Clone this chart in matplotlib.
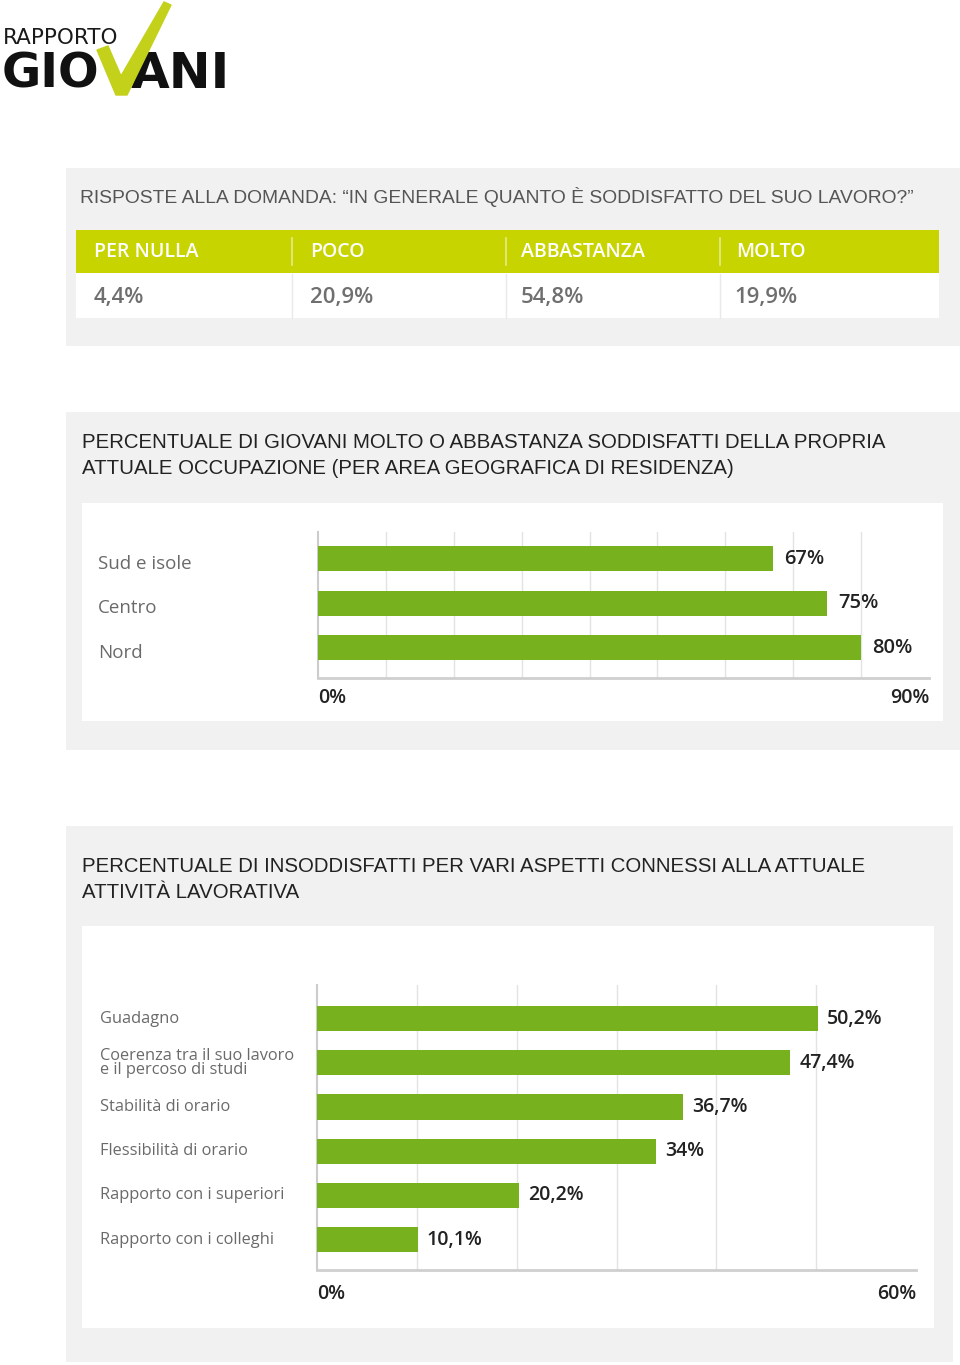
import matplotlib
matplotlib.use("Agg")
import matplotlib.pyplot as plt
from matplotlib.patches import Rectangle, Polygon
from matplotlib.transforms import blended_transform_factory
import numpy as np

W, H = 960, 1365

# data
table_heads = ["PER NULLA", "POCO", "ABBASTANZA", "MOLTO"]
table_vals = [4.4, 20.9, 54.8, 19.9]

areas = ["Sud e isole", "Centro", "Nord"]
area_vals = [67, 75, 80]

aspects = ["Guadagno", "Coerenza tra il suo lavoro\ne il percoso di studi",
           "Stabilità di orario", "Flessibilità di orario",
           "Rapporto con i superiori", "Rapporto con i colleghi"]
aspect_vals = [50.2, 47.4, 36.7, 34.0, 20.2, 10.1]

GREEN_HEAD = "#c8d400"
GREEN_BAR = "#78b11e"
PANEL = "#f1f1f1"
SANS = ["Liberation Sans", "DejaVu Sans"]
OPEN = ["Open Sans", "DejaVu Sans"]


def fmt(v):
    return f"{v:g}".replace(".", ",") + "%"


def px_axes(x0, y0, x1, y1):
    return fig.add_axes([x0 / W, 1 - y1 / H, (x1 - x0) / W, (y1 - y0) / H])


fig = plt.figure(figsize=(W / 100, H / 100), dpi=100)
bg = fig.add_axes([0, 0, 1, 1])
bg.set_xlim(0, W)
bg.set_ylim(H, 0)
bg.axis("off")

# logo
bg.text(3, 44, "RAPPORTO", fontsize=15.5, family=["DejaVu Sans"], color="#1a1a1a", va="baseline")
bg.text(2, 88, "GIO", fontsize=34.5, family=["DejaVu Sans"], weight="bold", color="#111111", va="baseline")
bg.text(131, 88, "ANI", fontsize=36, family=["DejaVu Sans"], weight="bold", color="#111111", va="baseline")
bg.add_patch(Polygon([(97, 50), (108, 46), (121, 76), (164, 2), (171, 5), (127, 95), (116, 95)],
                     closed=True, color="#c3d11a", zorder=3))

# panels
bg.add_patch(Rectangle((66, 168), 894, 178, color=PANEL, lw=0))
bg.add_patch(Rectangle((66, 412), 894, 338, color=PANEL, lw=0))
bg.add_patch(Rectangle((66, 826), 887, 536, color=PANEL, lw=0))
bg.add_patch(Rectangle((82, 503), 861, 218, color="white", lw=0))
bg.add_patch(Rectangle((82, 926), 852, 402, color="white", lw=0))

# panel 1: table
bg.text(80, 197, "RISPOSTE ALLA DOMANDA: “IN GENERALE QUANTO È SODDISFATTO DEL SUO LAVORO?”",
        fontsize=13.9, family=SANS, color="#555555", va="center")
bg.add_patch(Rectangle((76, 230), 863, 43, color=GREEN_HEAD, lw=0))
bg.add_patch(Rectangle((76, 273), 863, 45, color="white", lw=0))
col_x = [94, 310, 521, 736]
sep_x = [292, 506, 720]
for i, (h, v) in enumerate(zip(table_heads, table_vals)):
    bg.text(col_x[i], 252, h, fontsize=14, family=OPEN, weight="semibold", color="white", va="center")
    bg.text(col_x[i] - (2 if i == 3 else 0), 297, fmt(v), fontsize=16, family=OPEN,
            weight="semibold", color="#6f6f6f", va="center")
for sx in sep_x:
    bg.plot([sx, sx], [238, 265], color="#e6ec8a", lw=1.2)
    bg.plot([sx, sx], [274, 318], color="#e9e9e9", lw=1)

# panel 2 title
bg.text(82, 442, "PERCENTUALE DI GIOVANI MOLTO O ABBASTANZA SODDISFATTI DELLA PROPRIA",
        fontsize=14.7, family=SANS, color="#222222", va="center")
bg.text(82, 469, "ATTUALE OCCUPAZIONE (PER AREA GEOGRAFICA DI RESIDENZA)",
        fontsize=14.7, family=SANS, color="#222222", va="center")

# panel 3 title
bg.text(82, 866, "PERCENTUALE DI INSODDISFATTI PER VARI ASPETTI CONNESSI ALLA ATTUALE",
        fontsize=14.7, family=SANS, color="#222222", va="center")
bg.text(82, 893, "ATTIVITÀ LAVORATIVA",
        fontsize=14.7, family=SANS, color="#222222", va="center")


def bar_chart(ax, cats, vals, xmax, ylim, height, lab_x, lab_size, lab_dy, val_size, val_off, pad):
    pos = np.arange(len(cats))
    ax.barh(pos, vals, height=height, color=GREEN_BAR, zorder=3)
    ax.set_xlim(0, xmax)
    ax.set_ylim(*ylim)
    ax.set_facecolor("white")
    ax.set_xticks(np.arange(0, xmax + 1, 10), minor=True)
    ax.grid(which="minor", axis="x", color="#e3e3e3", lw=1)
    ax.set_xticks([0, xmax], ["0%", f"{xmax}%"])
    ax.tick_params(axis="x", which="both", length=0, pad=pad, labelsize=14, labelcolor="#222222")
    tl = ax.get_xticklabels()
    tl[0].set_ha("left")
    tl[1].set_ha("right")
    for t in tl:
        t.set_family(OPEN)
        t.set_weight("semibold")
    ax.set_yticks([])
    for s in ["top", "right"]:
        ax.spines[s].set_visible(False)
    ax.spines["left"].set_color("#cccccc")
    ax.spines["left"].set_linewidth(1.5)
    ax.spines["bottom"].set_color("#cfcfcf")
    ax.spines["bottom"].set_linewidth(2)
    tr = blended_transform_factory(bg.transData, ax.transData)
    for p, c, v in zip(pos, cats, vals):
        ax.annotate(c, (lab_x, p), xycoords=tr, xytext=(0, -lab_dy), textcoords="offset pixels",
                    fontsize=lab_size, family=OPEN, color="#6a6a6a",
                    va="center", linespacing=0.8, annotation_clip=False)
        ax.annotate(fmt(v), (v, p), xytext=(val_off, 0), textcoords="offset pixels",
                    va="center", fontsize=val_size, family=OPEN, weight="semibold", color="#222222")


ax2 = px_axes(318, 532, 929, 678)
bar_chart(ax2, areas, area_vals, 90, (2.685, -0.6), 0.56, 98, 13.5, 5, 14.5, 11, 7)

ax3 = px_axes(317, 985, 916, 1270)
bar_chart(ax3, aspects, aspect_vals, 60, (5.69, -0.76), 0.57, 100, 11.8, 0, 14, 9, 10)

fig.savefig("out.png", dpi=100)
